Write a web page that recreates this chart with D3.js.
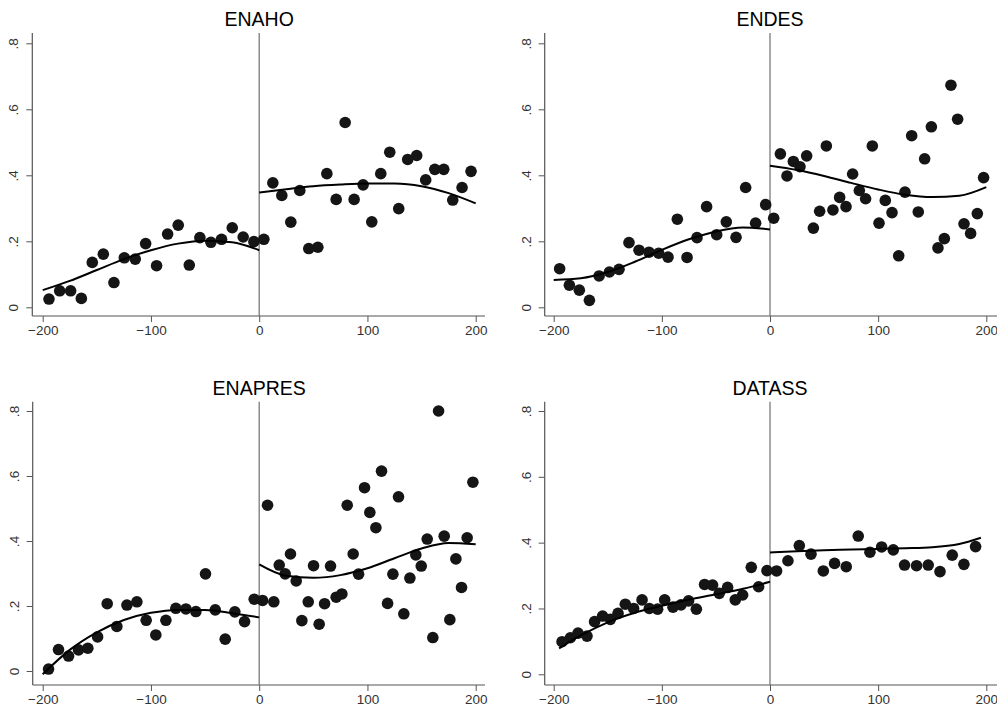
<!DOCTYPE html>
<html>
<head>
<meta charset="utf-8">
<script src="https://cdn.jsdelivr.net/npm/d3@7"></script>
<style>
  body { margin: 0; background: #fff; }
  svg { display: block; font-family: "Liberation Sans", Arial, sans-serif; }
</style>
</head>
<body>
<svg id="chart" width="997" height="711"></svg>
<script>
// bin means (running variable, outcome) and fitted polynomial, per survey

var xTicks = [-200, -100, 0, 100, 200];
var yTicks = [0, 0.2, 0.4, 0.6, 0.8];

// ENAHO
var enahoX = [-194.2, -184.3, -174.2, -164.3, -154.2, -144, -134.2, -124.6, -114.5, -104.9, -94.8, -84.6, -74.8, -64.6, -54.8, -44.6, -34.8, -24.9, -14.8, -4.9,
              4.3, 12.6, 20.9, 29.2, 37.5, 45.8, 54.2, 62.5, 71.1, 79.4, 87.7, 96, 104, 112.3, 120.6, 128.9, 137.2, 145.5, 153.8, 162.2, 170.5, 178.8, 187.4, 195.7];
var enahoY = [0.025, 0.05, 0.05, 0.027, 0.136, 0.161, 0.075, 0.15, 0.146, 0.193, 0.126, 0.222, 0.249, 0.128, 0.211, 0.197, 0.206, 0.241, 0.213, 0.199,
              0.206, 0.377, 0.339, 0.258, 0.354, 0.178, 0.182, 0.405, 0.327, 0.56, 0.327, 0.371, 0.259, 0.405, 0.47, 0.299, 0.448, 0.46, 0.386, 0.418, 0.418, 0.325, 0.363, 0.412];
var enahoFitLX = [-200, -175, -150, -125, -100, -75, -50, -25, 0];
var enahoFitLY = [0.052, 0.08, 0.113, 0.146, 0.173, 0.193, 0.202, 0.197, 0.173];
var enahoFitRX = [0, 25, 50, 75, 100, 125, 150, 175, 200];
var enahoFitRY = [0.348, 0.358, 0.367, 0.372, 0.375, 0.375, 0.367, 0.346, 0.315];

// ENDES
var endesX = [-194.5, -185.5, -176.3, -167, -158, -148.5, -139.6, -130.4, -121.1, -111.9, -102.9, -94.3, -85.7, -76.7, -67.5, -58.6, -49.3, -40.4, -31.4, -22.5, -13.3, -4,
              3.4, 9.6, 15.7, 21.6, 27.7, 33.9, 40.1, 45.9, 52.1, 58.2, 64.4, 70.3, 76.4, 82.6, 88.4, 94.6, 100.8, 106.6, 112.8, 119, 124.8, 131, 137.1, 143, 149.2, 155.3, 161.2, 167.3, 173.5, 179.4, 185.5, 191.7, 197.5];
var endesY = [0.117, 0.067, 0.052, 0.021, 0.095, 0.107, 0.115, 0.196, 0.173, 0.167, 0.164, 0.152, 0.267, 0.151, 0.211, 0.305, 0.22, 0.259, 0.212, 0.363, 0.255, 0.311,
              0.27, 0.465, 0.398, 0.442, 0.426, 0.459, 0.24, 0.291, 0.489, 0.295, 0.333, 0.305, 0.404, 0.354, 0.329, 0.489, 0.255, 0.324, 0.287, 0.156, 0.349, 0.52, 0.289, 0.45, 0.547, 0.18, 0.208, 0.673, 0.57, 0.253, 0.224, 0.284, 0.393];
var endesFitLX = [-200, -175, -150, -125, -100, -75, -50, -25, 0];
var endesFitLY = [0.083, 0.088, 0.107, 0.138, 0.174, 0.206, 0.23, 0.242, 0.236];
var endesFitRX = [0, 25, 50, 75, 100, 125, 150, 175, 200];
var endesFitRY = [0.429, 0.416, 0.398, 0.377, 0.357, 0.341, 0.334, 0.338, 0.364];

// ENAPRES
var enapresX = [-194.6, -185.4, -176.1, -166.9, -158.3, -149.3, -140.4, -131.5, -122.2, -113, -104.4, -95.5, -86.2, -77, -67.7, -58.5, -49.6, -40.6, -31.4, -22.5, -13.5, -4.6,
                3.1, 7.7, 13.5, 18.5, 24, 28.9, 34.2, 39.4, 45.3, 50.2, 55.4, 60.4, 65.9, 71.1, 76.4, 81.3, 86.8, 91.8, 97.3, 102.2, 107.8, 113, 118.6, 123.5, 128.7, 133.6, 139.2, 144.7, 149.7, 155.2, 160.4, 165.7, 170.9, 176.1, 181.7, 186.9, 192.1, 197.4];
var enapresY = [0.006, 0.066, 0.046, 0.065, 0.07, 0.105, 0.207, 0.137, 0.203, 0.213, 0.156, 0.111, 0.156, 0.193, 0.191, 0.183, 0.299, 0.188, 0.098, 0.182, 0.152, 0.221,
                0.217, 0.51, 0.213, 0.326, 0.299, 0.36, 0.277, 0.155, 0.213, 0.324, 0.144, 0.207, 0.323, 0.227, 0.237, 0.51, 0.36, 0.298, 0.564, 0.488, 0.441, 0.615, 0.208, 0.298, 0.536, 0.176, 0.286, 0.357, 0.323, 0.406, 0.103, 0.8, 0.415, 0.158, 0.345, 0.257, 0.41, 0.581];
var enapresFitLX = [-200, -175, -150, -125, -100, -75, -50, -25, 0];
var enapresFitLY = [-0.01, 0.065, 0.119, 0.157, 0.179, 0.188, 0.188, 0.178, 0.165];
var enapresFitRX = [0, 25, 50, 75, 100, 125, 150, 175, 200];
var enapresFitRY = [0.328, 0.293, 0.287, 0.295, 0.316, 0.347, 0.377, 0.394, 0.39];

// DATASS
var datassX = [-192.3, -184.6, -177.5, -169.2, -162.2, -154.8, -147.6, -140.5, -133.8, -126.1, -118.3, -111.6, -103.9, -97.4, -89.7, -82.3, -75.3, -68.1, -60.5, -53.1, -46.9, -39.2, -32.1, -25.3, -17.3, -10.5, -2.8,
               6.1, 16.6, 27.1, 37.9, 49.3, 59.7, 70.5, 81.6, 92.4, 103.2, 114, 124.4, 135.5, 146.3, 157.2, 168.5, 179.3, 190.1];
var datassY = [0.099, 0.111, 0.125, 0.116, 0.16, 0.177, 0.167, 0.185, 0.213, 0.2, 0.226, 0.2, 0.198, 0.226, 0.204, 0.211, 0.223, 0.198, 0.273, 0.271, 0.246, 0.264, 0.226, 0.241, 0.325, 0.266, 0.315,
               0.314, 0.345, 0.391, 0.365, 0.314, 0.337, 0.327, 0.42, 0.371, 0.387, 0.378, 0.332, 0.33, 0.332, 0.312, 0.362, 0.334, 0.388];
var datassFitLX = [-195, -175, -150, -125, -100, -75, -50, -25, 0];
var datassFitLY = [0.079, 0.118, 0.158, 0.187, 0.208, 0.227, 0.243, 0.26, 0.281];
var datassFitRX = [0, 25, 50, 75, 100, 125, 150, 175, 195];
var datassFitRY = [0.37, 0.374, 0.377, 0.379, 0.381, 0.383, 0.386, 0.396, 0.415];

var panels = [
  { title: "ENAHO", bx: enahoX, by: enahoY, lx: enahoFitLX, ly: enahoFitLY, rx: enahoFitRX, ry: enahoFitRY,
    xr: [42.7, 475.7], yr: [307.3, 43.3], left: 32.3, top: 33, bottom: 316, right: 485, titleY: 26 },
  { title: "ENDES", bx: endesX, by: endesY, lx: endesFitLX, ly: endesFitLY, rx: endesFitRX, ry: endesFitRY,
    xr: [553.7, 986.3], yr: [307.3, 43.3], left: 544.7, top: 33, bottom: 316, right: 1000, titleY: 26 },
  { title: "ENAPRES", bx: enapresX, by: enapresY, lx: enapresFitLX, ly: enapresFitLY, rx: enapresFitRX, ry: enapresFitRY,
    xr: [42.7, 475.7], yr: [671, 411], left: 32.7, top: 401.7, bottom: 685, right: 485, titleY: 395 },
  { title: "DATASS", bx: datassX, by: datassY, lx: datassFitLX, ly: datassFitLY, rx: datassFitRX, ry: datassFitRY,
    xr: [553.7, 986.3], yr: [674.3, 411], left: 544.7, top: 401.7, bottom: 685, right: 1000, titleY: 395 }
];

var svg = d3.select("#chart");

var yFmt = function(d) {
  return d === 0 ? "0" : d3.format(".1f")(d).replace(/^0/, "");
};

panels.forEach(function(p)
{
  var x = d3.scaleLinear().domain([-200, 200]).range(p.xr);
  var y = d3.scaleLinear().domain([0, 0.8]).range(p.yr);
  var g = svg.append("g");

  // axes
  var gx = g.append("g")
      .attr("transform", "translate(0," + p.bottom + ")")
      .call(d3.axisBottom(x).tickValues(xTicks).tickSize(6).tickPadding(3));
  var gy = g.append("g")
      .attr("transform", "translate(" + p.left + ",0)")
      .call(d3.axisLeft(y).tickValues(yTicks).tickFormat(yFmt).tickSize(6));
  gx.select(".domain").remove();
  gy.select(".domain").remove();

  gx.selectAll("line").attr("stroke", "#555");
  gy.selectAll("line").attr("stroke", "#555");
  gx.selectAll("text")
      .attr("font-size", 13.5)
      .attr("font-family", "Liberation Sans, Arial, sans-serif")
      .attr("fill", "#333");
  gy.selectAll("text")
      .attr("font-size", 13.5)
      .attr("font-family", "Liberation Sans, Arial, sans-serif")
      .attr("fill", "#333")
      .attr("text-anchor", "middle")
      .attr("dy", 0)
      .attr("x", 0)
      .attr("transform", "translate(-14,0) rotate(-90)");

  g.append("line")
      .attr("x1", p.left).attr("x2", p.left)
      .attr("y1", p.top).attr("y2", p.bottom)
      .attr("stroke", "#555").attr("stroke-width", 1.2);
  g.append("line")
      .attr("x1", p.left).attr("x2", p.right)
      .attr("y1", p.bottom).attr("y2", p.bottom)
      .attr("stroke", "#555").attr("stroke-width", 1.2);

  // cutoff
  g.append("line")
      .attr("x1", x(0)).attr("x2", x(0))
      .attr("y1", p.top).attr("y2", p.bottom)
      .attr("stroke", "#7a7a7a").attr("stroke-width", 1.3);

  // bins
  g.selectAll("circle.bin")
      .data(d3.range(p.bx.length))
      .enter().append("circle")
      .attr("class", "bin")
      .attr("cx", function(i) { return x(p.bx[i]); })
      .attr("cy", function(i) { return y(p.by[i]); })
      .attr("r", 5.8)
      .attr("fill", "#151515");

  // fits
  var line = d3.line()
      .x(function(d) { return x(d[0]); })
      .y(function(d) { return y(d[1]); })
      .curve(d3.curveMonotoneX);

  g.append("path")
      .attr("d", line(d3.zip(p.lx, p.ly)))
      .attr("fill", "none").attr("stroke", "#000").attr("stroke-width", 2);
  g.append("path")
      .attr("d", line(d3.zip(p.rx, p.ry)))
      .attr("fill", "none").attr("stroke", "#000").attr("stroke-width", 2);

  g.append("text")
      .attr("x", x(0))
      .attr("y", p.titleY)
      .attr("text-anchor", "middle")
      .attr("font-size", 19.5)
      .attr("fill", "#000")
      .text(p.title);
});
</script>
</body>
</html>
